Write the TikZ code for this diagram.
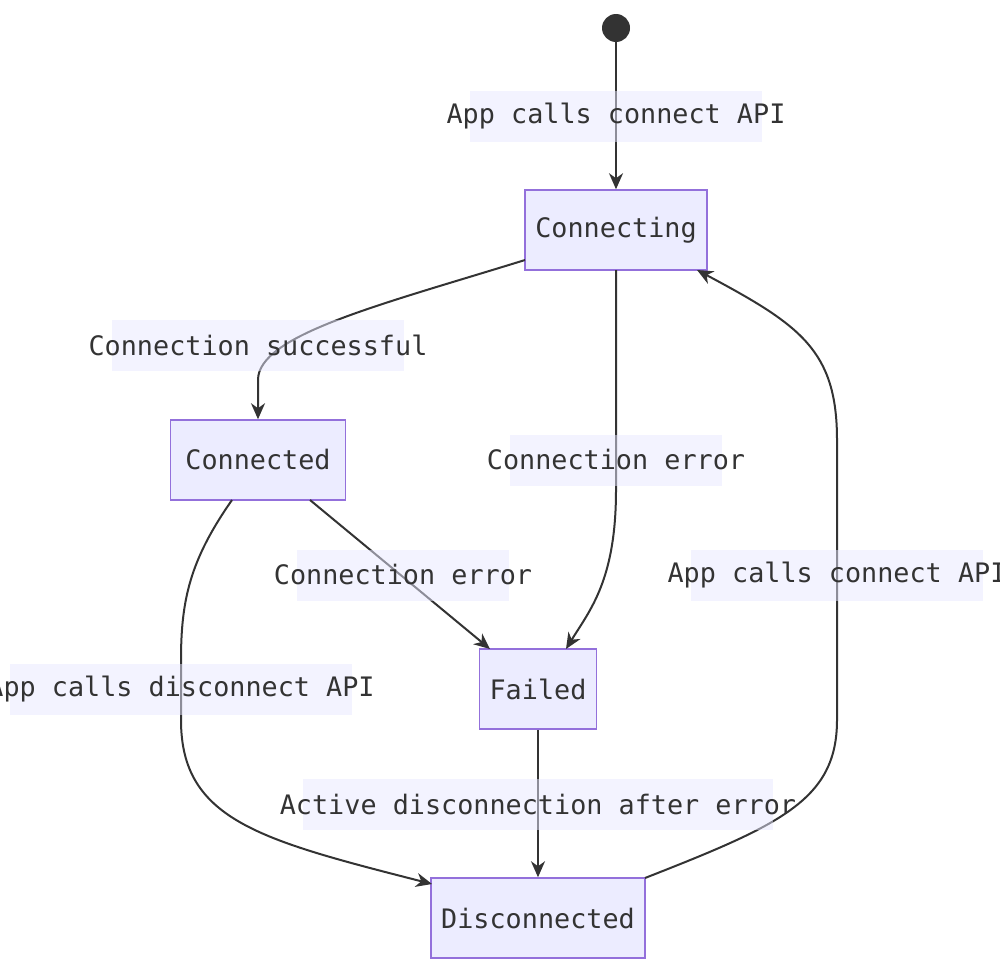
\documentclass[tikz,border=0pt]{standalone}
\usepackage{fontspec}
\setmonofont{DejaVu Sans Mono}
\usetikzlibrary{arrows.meta}
\definecolor{nfill}{HTML}{ECECFF}
\definecolor{ndraw}{HTML}{9370DB}
\definecolor{lbg}{HTML}{E8E8FF}
\definecolor{ink}{HTML}{333333}
\begin{document}
\begin{tikzpicture}[x=1pt,y=-1pt,
  st/.style={draw=ndraw,fill=nfill,line width=1.5pt,minimum height=80pt,inner xsep=10pt,font=\ttfamily\fontsize{26.8}{30}\selectfont,text=ink},
  lb/.style={fill=lbg,fill opacity=0.5,text opacity=1,inner xsep=-23pt,minimum height=51pt,font=\ttfamily\fontsize{26.8}{30}\selectfont,text=ink},
  ed/.style={draw=ink,line width=2pt,-{Stealth[length=16pt,width=14pt,inset=5pt]}}]
\useasboundingbox (0,0) rectangle (1000,974);
\node[circle,fill=ink,minimum size=28pt,inner sep=0pt] (s) at (616,28) {};
\node[st,minimum width=182pt] (cing) at (616,230) {Connecting};
\node[st,minimum width=175pt] (ced) at (258,460) {Connected};
\node[st,minimum width=113pt] (f) at (538,689) {Failed};
\node[st,minimum width=213pt] (d) at (538,918) {Disconnected};
\coordinate (a1) at (525,260);
\coordinate (a3) at (616,270);
\coordinate (a4) at (310,500);
\coordinate (a5) at (232,500);
\coordinate (a7) at (645,878);
% edges
\draw[ed] (a1) .. controls (380,305) and (258,335) .. (258,380) -- (ced.north);
\draw[ed] (s) -- (cing);
\draw[ed] (a3) -- (616,490) .. controls (616,580) and (590,610) .. (566,649);
\draw[ed] (a4) -- (490,649);
\draw[ed] (a5) .. controls (190,560) and (181,600) .. (181,660) -- (181,720) .. controls (181,820) and (260,840) .. (432,884);
\draw[ed] (f) -- (d);
\draw[ed] (a7) .. controls (780,825) and (837,800) .. (837,720) -- (837,440) .. controls (837,350) and (800,325) .. (697,270);
% labels
\node[lb] (l1) at (616,116) {App calls connect API};
\node[lb] (l2) at (258,345) {Connection successful};
\node[lb] (l3) at (616,460) {Connection error};
\node[lb] (l4) at (403,575) {Connection error};
\node[lb] (l5) at (181,689) {App calls disconnect API};
\node[lb] (l6) at (538,804) {Active disconnection after error};
\node[lb] (l7) at (837,575) {App calls connect API};
\end{tikzpicture}
\end{document}
